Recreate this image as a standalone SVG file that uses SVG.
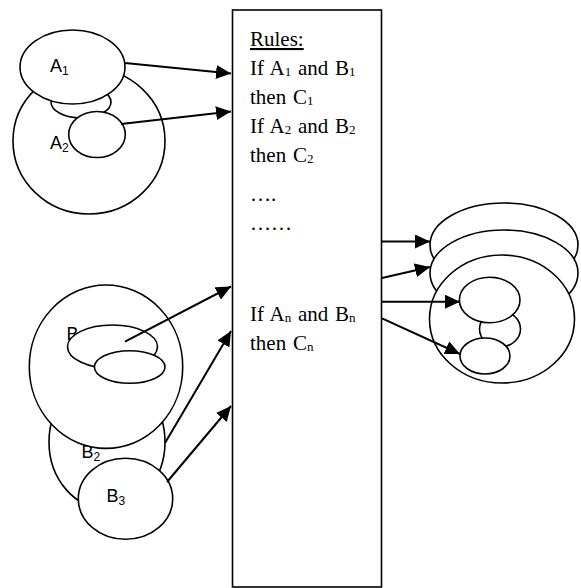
<svg xmlns="http://www.w3.org/2000/svg" width="581" height="588" viewBox="0 0 581 588">
<style>
.sh{fill:#fff;stroke:#000;stroke-width:1.6}
.lbl{font-family:"Liberation Sans",Arial,sans-serif;font-size:18px;fill:#000}
.rule{font-family:"Liberation Serif","Times New Roman",serif;font-size:21px;word-spacing:1.5px;fill:#000}
.con{stroke:#000;stroke-width:2;fill:none;marker-end:url(#ah)}
</style>
<defs>
<marker id="ah" markerUnits="userSpaceOnUse" markerWidth="16" markerHeight="14" refX="15" refY="7" orient="auto">
<path d="M0,0 L15,7 L0,14 z" fill="#000"/>
</marker>
</defs>
<rect width="581" height="588" fill="#fff"/>

<g id="groupA">
<ellipse class="sh" cx="89" cy="141" rx="76" ry="73"/>
<ellipse class="sh" cx="81" cy="102" rx="30" ry="16"/>
<ellipse class="sh" cx="72.5" cy="67" rx="52.5" ry="37"/>
<text class="lbl" x="50" y="72">A<tspan font-size="12" dy="3">1</tspan></text>
<text class="lbl" x="50" y="149">A<tspan font-size="12" dy="3">2</tspan></text>
<ellipse class="sh" cx="97" cy="134.5" rx="28.3" ry="23"/>
</g>

<g id="groupB">
<ellipse class="sh" cx="107" cy="442" rx="58" ry="67"/>
<text class="lbl" x="81.5" y="458">B<tspan font-size="12" dy="3">2</tspan></text>
<ellipse class="sh" cx="106" cy="366.7" rx="76.7" ry="81.7"/>
<text class="lbl" x="66.5" y="340">B<tspan font-size="12" dy="3">1</tspan></text>
<ellipse class="sh" cx="112.5" cy="346.7" rx="45" ry="21.7"/>
<ellipse class="sh" cx="129.7" cy="367" rx="35.3" ry="16.3"/>
<ellipse class="sh" cx="125.5" cy="498.8" rx="47.2" ry="40.5"/>
<text class="lbl" x="106.5" y="501.5">B<tspan font-size="12" dy="3">3</tspan></text>
</g>

<g id="groupC">
<ellipse class="sh" cx="504" cy="245" rx="74" ry="42"/>
<ellipse class="sh" cx="504" cy="273" rx="74" ry="43"/>
<ellipse class="sh" cx="502" cy="319" rx="72.5" ry="64"/>
<ellipse class="sh" cx="500" cy="329" rx="20.5" ry="18"/>
<ellipse class="sh" cx="489.7" cy="300" rx="30.3" ry="22.7"/>
<ellipse class="sh" cx="485" cy="356" rx="25" ry="18"/>
</g>

<g id="rules">
<rect class="sh" x="232.5" y="10" width="149" height="577"/>
<text class="rule" x="250" y="46" text-decoration="underline">Rules:</text>
<text class="rule" x="250" y="75">If A<tspan font-size="13" dy="1">1</tspan><tspan dy="-1"> and B</tspan><tspan font-size="13" dy="1">1</tspan></text>
<text class="rule" x="250" y="104">then C<tspan font-size="13" dy="1">1</tspan></text>
<text class="rule" x="250" y="133">If A<tspan font-size="13" dy="1">2</tspan><tspan dy="-1"> and B</tspan><tspan font-size="13" dy="1">2</tspan></text>
<text class="rule" x="250" y="162">then C<tspan font-size="13" dy="1">2</tspan></text>
<text class="rule" x="250" y="201">….</text>
<text class="rule" x="250" y="230">……</text>
<text class="rule" x="250" y="321">If A<tspan font-size="13" dy="1">n</tspan><tspan dy="-1"> and B</tspan><tspan font-size="13" dy="1">n</tspan></text>
<text class="rule" x="250" y="350">then C<tspan font-size="13" dy="1">n</tspan></text>
</g>

<g id="connectors">
<line class="con" x1="125" y1="63" x2="231" y2="73.5"/>
<line class="con" x1="121" y1="124" x2="231" y2="111.5"/>
<line class="con" x1="125" y1="341.7" x2="231" y2="286.5"/>
<line class="con" x1="165" y1="443" x2="231" y2="331"/>
<line class="con" x1="167" y1="482" x2="231" y2="406"/>
<line class="con" x1="382" y1="241.5" x2="430" y2="241.5"/>
<line class="con" x1="382" y1="278" x2="430" y2="267"/>
<line class="con" x1="382" y1="301.7" x2="460" y2="301.7"/>
<line class="con" x1="382" y1="318.3" x2="460" y2="354"/>
</g>
</svg>
